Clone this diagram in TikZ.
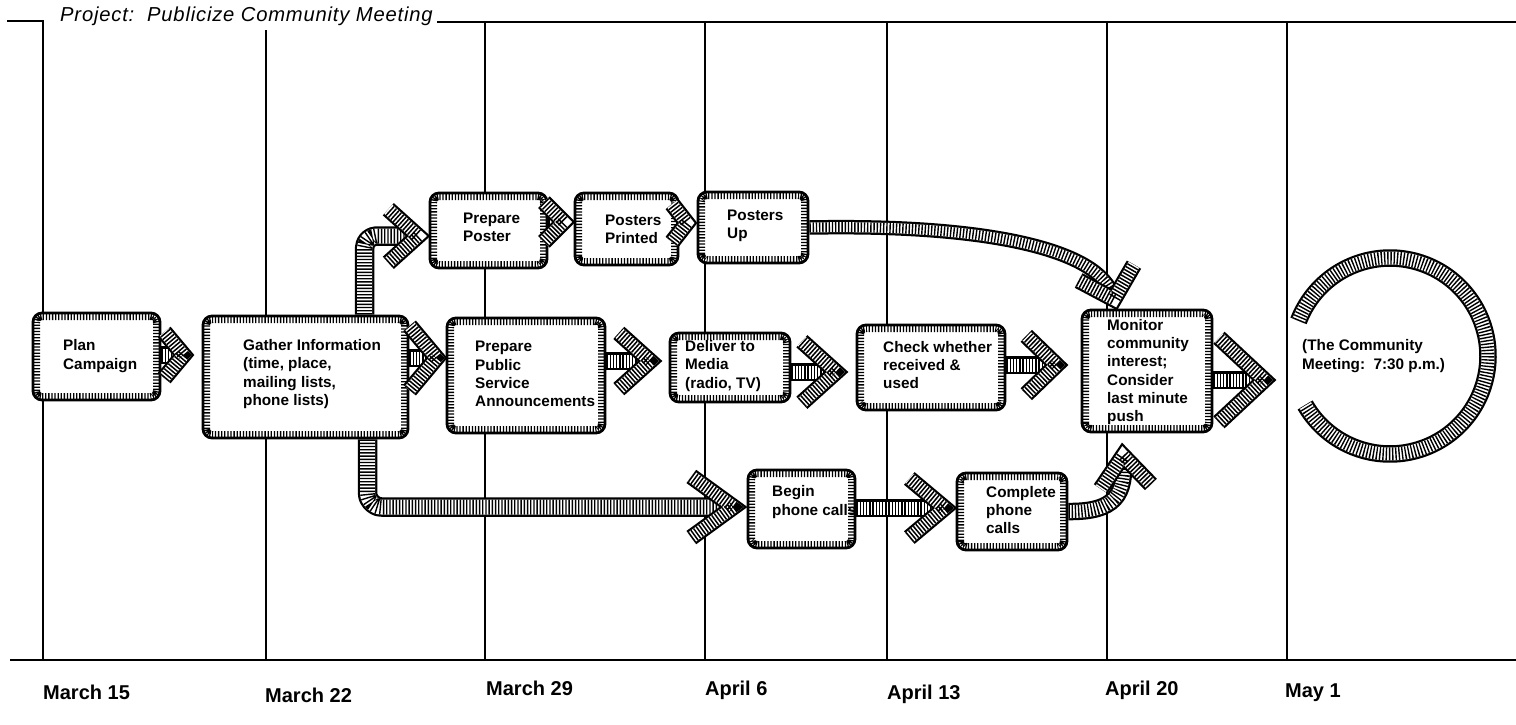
\documentclass[tikz,border=0pt]{standalone}
\usepackage{fontspec}
\setmainfont{Liberation Sans}
\newfontfamily\titlefont[LetterSpace=4]{Liberation Sans}
\usetikzlibrary{calc}

\tikzset{
  gridline/.style={line width=1.5pt, black},
  task/.style={draw=black, line width=2.8pt, fill=white, rounded corners=9pt, inner sep=0pt,
    path picture={\draw[line width=14pt, dash pattern=on 1.3pt off 1.8pt, rounded corners=9pt]
      (path picture bounding box.south west) rectangle (path picture bounding box.north east);}},
  txt/.style={inner sep=0pt, anchor=west, align=left, font=\fontsize{15.3}{18.3}\selectfont\bfseries},
  datelabel/.style={inner sep=0pt, anchor=west, font=\fontsize{20}{24}\selectfont\bfseries},
  band/.style={draw=white, line width=13pt, line join=round,
    preaction={draw=black, line width=17.5pt, line join=round},
    postaction={draw=black, line width=13pt, dash pattern=on 1.4pt off 1.8pt}},
  wideband/.style={draw=white, line width=15pt, line join=round,
    preaction={draw=black, line width=19.5pt, line join=round},
    postaction={draw=black, line width=15pt, dash pattern=on 1.4pt off 1.8pt}},
  thinband/.style={draw=white, line width=10pt, line join=round,
    preaction={draw=black, line width=14.5pt, line join=round},
    postaction={draw=black, line width=10pt, dash pattern=on 1.4pt off 1.8pt}},
  armband/.style={draw=white, line width=12pt, line join=miter,
    preaction={draw=black, line width=16.5pt, line join=miter},
    postaction={draw=black, line width=12pt, line join=miter, dash pattern=on 1.5pt off 1.7pt}},
}

% chevron head: tip, pointing direction, half opening angle, arm length
\newcommand\chevhead[4]{%
  \draw[armband] ($(#1)+(#2+180:{8/sin(#3)})+(#2+180-#3:#4)$)
    -- ($(#1)+(#2+180:{8/sin(#3)})$)
    -- ($(#1)+(#2+180:{8/sin(#3)})+(#2+180+#3:#4)$);}

\begin{document}
\begin{tikzpicture}[x=1pt, y=-1pt]
\fill[white] (0,0) rectangle (1516,724);
\useasboundingbox (0,0) rectangle (1516,724);

% time grid
\node[inner sep=0pt, anchor=base west, font=\titlefont\fontsize{20.2}{23}\selectfont\itshape] (title)
  at (60,21) {Project:\ \ Publicize Community Meeting};
\draw[gridline] (7,21) -- (43,21) -- (43,660);
\draw[gridline] (437,22) -- (1516,22);
\draw[gridline] (266,30) -- (266,660);
\foreach \gx in {485,705,887,1107,1287}
  \draw[gridline] (\gx,22) -- (\gx,660);
\draw[line width=2.2pt] (10,660) -- (1516,660);

% dates
\node[datelabel] (d1) at (43,692) {March 15};
\node[datelabel] (d2) at (265,695) {March 22};
\node[datelabel] (d3) at (486,688) {March 29};
\node[datelabel] (d4) at (705,690) {April 6};
\node[datelabel] (d5) at (887,694) {April 13};
\node[datelabel] (d6) at (1105,690) {April 20};
\node[datelabel] (d7) at (1285,693) {May 1};

% task boxes
\node[task, minimum width=127pt, minimum height=87pt] (plan) at (96.5,356.5) {};
\node[task, minimum width=205pt, minimum height=122pt] (gather) at (305.5,377) {};
\node[task, minimum width=117pt, minimum height=75pt] (poster) at (488.5,230.5) {};
\node[task, minimum width=103pt, minimum height=72pt] (printed) at (626.5,229) {};
\node[task, minimum width=110pt, minimum height=71pt] (up) at (753,227.5) {};
\node[task, minimum width=158pt, minimum height=115pt] (psa) at (526,375.5) {};
\node[task, minimum width=120pt, minimum height=69pt] (deliver) at (730,367.5) {};
\node[task, minimum width=148pt, minimum height=85pt] (check) at (931,367.5) {};
\node[task, minimum width=130pt, minimum height=122pt] (monitor) at (1147,371) {};
\node[task, minimum width=107pt, minimum height=78pt] (begin) at (801.5,509) {};
\node[task, minimum width=110pt, minimum height=77pt] (complete) at (1012,511.5) {};
\node[circle, minimum size=196pt, inner sep=0pt] (meeting) at (1390,356) {};

% box texts
\node[txt] (plan-t) at (63,356) {Plan\\Campaign};
\node[txt] (gather-t) at (243,374) {Gather Information\\(time, place,\\mailing lists,\\phone lists)};
\node[txt] (poster-t) at (463,227) {Prepare\\Poster};
\node[txt] (printed-t) at (605,229) {Posters\\Printed};
\node[txt] (up-t) at (727,226) {Posters\\Up};
\node[txt] (psa-t) at (475,374) {Prepare\\Public\\Service\\Announcements};
\node[txt] (deliver-t) at (685,366) {Deliver to\\Media\\(radio, TV)};
\node[txt] (check-t) at (883,365) {Check whether\\received \&\\used};
\node[txt] (monitor-t) at (1107,372) {Monitor\\community\\interest;\\Consider\\last minute\\push};
\node[txt] (begin-t) at (772,502) {Begin\\phone calls};
\node[txt] (complete-t) at (986,510) {Complete\\phone\\calls};
\node[txt] (meeting-t) at (1302,356) {(The Community\\Meeting:\ \ 7:30 p.m.)};

% ring round the meeting
\draw[band, shift={(meeting.center)}] plot[domain=-159:150, samples=90, smooth]
  ({98*cos(\x)},{98*sin(\x)});

% chevron tips
\coordinate (t1) at (194,355);
\coordinate (t2) at (447,358);
\coordinate (t3) at (430,236);
\coordinate (t4) at (575,222);
\coordinate (t5) at (697,223);
\coordinate (t6) at (662,361);
\coordinate (t7) at (848,372);
\coordinate (t8) at (1068,365);
\coordinate (t9) at (1276,380);
\coordinate (t10) at (1117,310);
\coordinate (t11) at (747,507);
\coordinate (t12) at (957,508);
\coordinate (t13) at (1122,443);

% shafts
\draw[band] (plan.east |- t1) -- ($(t1)+(-14,0)$);
\draw[band] (gather.east |- t2) -- ($(t2)+(-14,0)$);
\draw[wideband, rounded corners=12pt] ($(gather.north west)+(163,0)$) |- ($(t3)+(-14,0)$);
\draw[band] (poster.east |- t4) -- ($(t4)+(-12,0)$);
\draw[band] (printed.east |- t5) -- ($(t5)+(-10,0)$);
\draw[band] (psa.east |- t6) -- ($(t6)+(-14,0)$);
\draw[band] (deliver.east |- t7) -- ($(t7)+(-14,0)$);
\draw[band] (check.east |- t8) -- ($(t8)+(-14,0)$);
\draw[band] (monitor.east |- t9) -- ($(t9)+(-14,0)$);
\draw[thinband] (up.east) .. controls (990,224) and (1100,250) .. ($(t10)+(254:14)$);
\draw[wideband, rounded corners=14pt] ($(gather.south west)+(166,0)$) |- ($(t11)+(-14,0)$);
\draw[band] (begin.east |- t12) -- ($(t12)+(-14,0)$);
\draw[band] (complete.east) .. controls (1115,512) and (1126,495) .. ($(t13)+(85:14)$);

% chevron heads
\chevhead{t1}{0}{50}{30}
\chevhead{t2}{0}{50}{42}
\chevhead{t3}{0}{42}{40}
\chevhead{t4}{0}{45}{28}
\chevhead{t5}{0}{52}{24}
\chevhead{t6}{0}{42}{42}
\chevhead{t7}{0}{42}{46}
\chevhead{t8}{0}{44}{42}
\chevhead{t9}{0}{43}{62}
\chevhead{t10}{74}{46}{40}
\chevhead{t11}{0}{36}{52}
\chevhead{t12}{0}{40}{46}
\chevhead{t13}{265}{39}{40}
\end{tikzpicture}
\end{document}
